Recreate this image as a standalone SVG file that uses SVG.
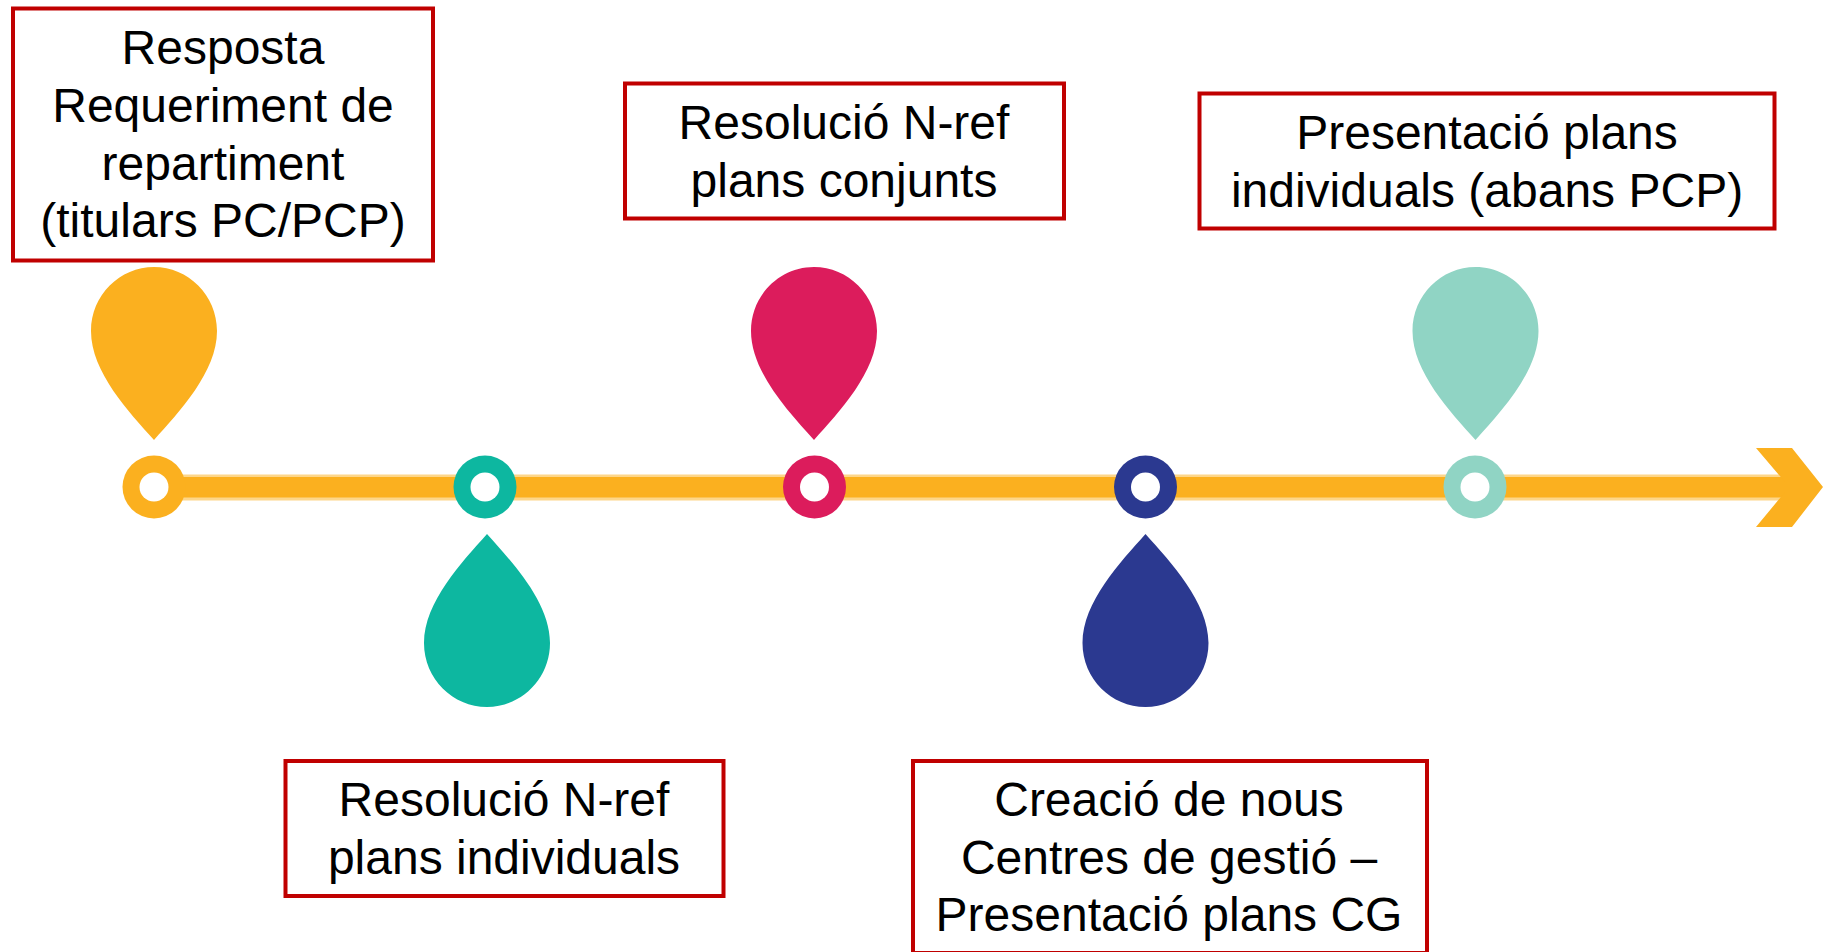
<svg xmlns="http://www.w3.org/2000/svg" width="1823" height="952" viewBox="0 0 1823 952">
<style>
.box{fill:#fff;stroke:#C00000;stroke-width:4}
text{font-family:"Liberation Sans",Arial,sans-serif;font-size:48px;fill:#000;text-anchor:middle}
.hole{fill:#fff}
</style>
<defs>
<path id="pin" d="M0,173C-25,145-63,105-63,64C-63,28-34,0 0,0C34,0 63,28 63,64C63,105 25,145 0,173Z"/>
</defs>
<rect width="1823" height="952" fill="#fff"/>
<g id="connectors">
<rect x="154" y="474.500" width="1632" height="26" fill="#FDD68A"/>
<rect x="154" y="477" width="1632" height="20.500" fill="#FBB01F"/>
<path d="M1756,448H1792L1823,487L1792,527H1756L1785,492V482Z" fill="#FBB01F"/>
</g>
<g id="n1"><use href="#pin" x="154" y="267" fill="#FBB01F"/><circle cx="154" cy="487" r="31.500" fill="#FBB01F"/><circle class="hole" cx="154" cy="487" r="14.500"/>
<rect class="box" x="13" y="8.500" width="420" height="252"/>
<text x="223" y="64">Resposta</text><text x="223" y="122">Requeriment de</text><text x="223" y="180">repartiment</text><text x="223" y="237">(titulars PC/PCP)</text></g>
<g id="n2"><use href="#pin" transform="translate(487,707) rotate(180)" fill="#0DB7A0"/><circle cx="485" cy="487" r="31.500" fill="#0DB7A0"/><circle class="hole" cx="485" cy="487" r="14.500"/>
<rect class="box" x="285.500" y="761" width="438" height="135"/>
<text x="504" y="816">Resolució N-ref</text><text x="504" y="874">plans individuals</text></g>
<g id="n3"><use href="#pin" x="814" y="267" fill="#DC1C5C"/><circle cx="814.500" cy="487" r="31.500" fill="#DC1C5C"/><circle class="hole" cx="814.500" cy="487" r="14.500"/>
<rect class="box" x="625" y="83.500" width="439" height="135"/>
<text x="844" y="139">Resolució N-ref</text><text x="844" y="197">plans conjunts</text></g>
<g id="n4"><use href="#pin" transform="translate(1145.500,707) rotate(180)" fill="#2B3990"/><circle cx="1145.500" cy="487" r="31.500" fill="#2B3990"/><circle class="hole" cx="1145.500" cy="487" r="14.500"/>
<rect class="box" x="913" y="761" width="514" height="192"/>
<text x="1169" y="816">Creació de nous</text><text x="1169" y="874">Centres de gestió –</text><text x="1169" y="931">Presentació plans CG</text></g>
<g id="n5"><use href="#pin" x="1475.500" y="267" fill="#90D4C4"/><circle cx="1475" cy="487" r="31.500" fill="#90D4C4"/><circle class="hole" cx="1475" cy="487" r="14.500"/>
<rect class="box" x="1199.500" y="93.500" width="575" height="135"/>
<text x="1487" y="149">Presentació plans</text><text x="1487" y="207">individuals (abans PCP)</text></g>
</svg>
